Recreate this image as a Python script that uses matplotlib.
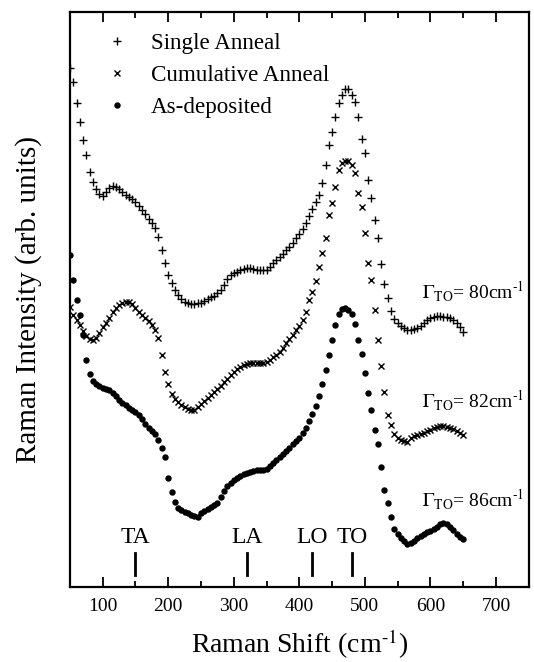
import numpy as np
import matplotlib
matplotlib.use('Agg')
import matplotlib.pyplot as plt

plt.rcParams['font.family'] = 'Liberation Serif'
plt.rcParams['mathtext.fontset'] = 'stix'

# Raman shift (cm-1), one reading every 5 cm-1
shift = np.arange(50, 655, 5)

# Intensities (arb. units, offset as in the figure)
single_anneal = [
    519, 505, 484, 465, 447, 432, 415, 405, 398, 393,
    391, 395, 399, 401, 400, 398, 395, 392, 390, 388,
    385, 381, 377, 373, 368, 364, 359, 350, 337, 324,
    312, 304, 297, 292, 288, 285, 284, 283, 283, 284,
    284, 286, 288, 290, 291, 294, 297, 302, 308, 312,
    314, 315, 317, 318, 319, 319, 318, 317, 317, 317,
    317, 320, 324, 327, 330, 333, 337, 340, 344, 349,
    353, 358, 364, 371, 378, 385, 392, 404, 422, 442,
    455, 470, 484, 492, 498, 498, 492, 485, 470, 448,
    434, 407, 389, 367, 349, 323, 303, 289, 276, 268,
    264, 261, 259, 257, 257, 258, 259, 261, 264, 267,
    269, 270, 271, 271, 270, 270, 269, 267, 264, 260,
    255]

cumulative_anneal = [
    280, 272, 267, 262, 256, 251, 248, 247, 249, 254,
    260, 264, 269, 275, 279, 282, 284, 285, 285, 283,
    279, 275, 272, 269, 266, 262, 257, 249, 232, 215,
    203, 193, 188, 185, 182, 180, 178, 177, 177, 180,
    183, 186, 189, 192, 195, 198, 201, 205, 208, 212,
    215, 218, 220, 222, 223, 224, 224, 224, 224, 224,
    225, 227, 230, 232, 235, 239, 244, 248, 252, 257,
    261, 267, 275, 287, 295, 306, 320, 334, 349, 372,
    384, 400, 417, 424, 426, 426, 422, 414, 394, 380,
    354, 324, 307, 277, 247, 221, 195, 172, 162, 153,
    149, 147, 146, 145, 149, 151, 152, 153, 154, 156,
    157, 159, 160, 161, 161, 160, 159, 158, 156, 154,
    152]

as_deposited = [
    332, 307, 287, 272, 252, 227, 213, 206, 203, 201,
    199, 198, 197, 194, 191, 187, 184, 182, 179, 177,
    175, 172, 168, 163, 159, 156, 153, 147, 139, 130,
    109, 95, 85, 79, 77, 75, 74, 72, 71, 70,
    74, 76, 78, 80, 82, 84, 90, 96, 101, 104,
    107, 109, 111, 113, 114, 115, 116, 117, 117, 117,
    118, 121, 124, 127, 130, 133, 136, 139, 143, 146,
    149, 154, 159, 166, 173, 181, 191, 203, 217, 232,
    247, 262, 273, 278, 279, 277, 273, 263, 247, 233,
    214, 194, 177, 157, 143, 120, 97, 84, 70, 58,
    53, 49, 46, 43, 44, 46, 49, 51, 53, 55,
    56, 58, 60, 63, 64, 63, 60, 57, 53, 50,
    48]

series_labels = ['Single Anneal', 'Cumulative Anneal', 'As-deposited']

# phonon band positions (cm-1)
phonon_names = ['TA', 'LA', 'LO', 'TO']
phonon_pos = [150, 320, 420, 480]

# TO linewidths
gamma_values = [80, 82, 86]
gamma_y = [288, 179, 80]

fig = plt.figure(figsize=(5.34, 6.62), dpi=100)
ax = fig.add_axes([0.131, 0.1133, 0.859, 0.8685])

ax.plot(shift, single_anneal, linestyle='none', marker='+', ms=6, mew=1.0,
        color='black', label=series_labels[0])
ax.plot(shift, cumulative_anneal, linestyle='none', marker='x', ms=5, mew=1.0,
        color='black', label=series_labels[1])
ax.plot(shift, as_deposited, linestyle='none', marker='o', ms=4.6, mew=0,
        color='black', label=series_labels[2])

# phonon markers
for name, pos in zip(phonon_names, phonon_pos):
    ax.plot([pos, pos], [12, 34], color='black', lw=2)
    ax.text(pos, 50, name, ha='center', va='center', fontsize=17)

for g, yy in zip(gamma_values, gamma_y):
    ax.text(587, yy, r'$\Gamma_{\rm TO}$= %dcm$^{\text{-1}}$' % g, ha='left',
            va='baseline', fontsize=14)

ax.set_xlim(50, 750)
ax.set_ylim(0, 575)
ax.set_xticks([100, 200, 300, 400, 500, 600, 700])
ax.set_xticks(np.arange(150, 750, 100), minor=True)
ax.set_yticks([])
ax.tick_params(axis='x', which='both', direction='in', top=True, labelsize=14,
               pad=8, width=1.3)
ax.tick_params(axis='x', which='major', length=7)
ax.tick_params(axis='x', which='minor', length=4)
for s in ax.spines.values():
    s.set_linewidth(1.6)

ax.set_xlabel(r'Raman Shift (cm$^{\text{-1}}$)', fontsize=20)
ax.set_ylabel('Raman Intensity (arb. units)', fontsize=21)
ax.xaxis.label.set_va('baseline')
ax.xaxis.set_label_coords(0.5, -0.115)
ax.yaxis.set_label_coords(-0.06, 0.5)

ax.legend(loc='upper left', bbox_to_anchor=(0.0765, 0.9645), frameon=False,
          fontsize=16.6, handlelength=1.0, handletextpad=1.0, borderpad=0,
          borderaxespad=0, labelspacing=0.48)

fig.savefig('out.png', dpi=100)
